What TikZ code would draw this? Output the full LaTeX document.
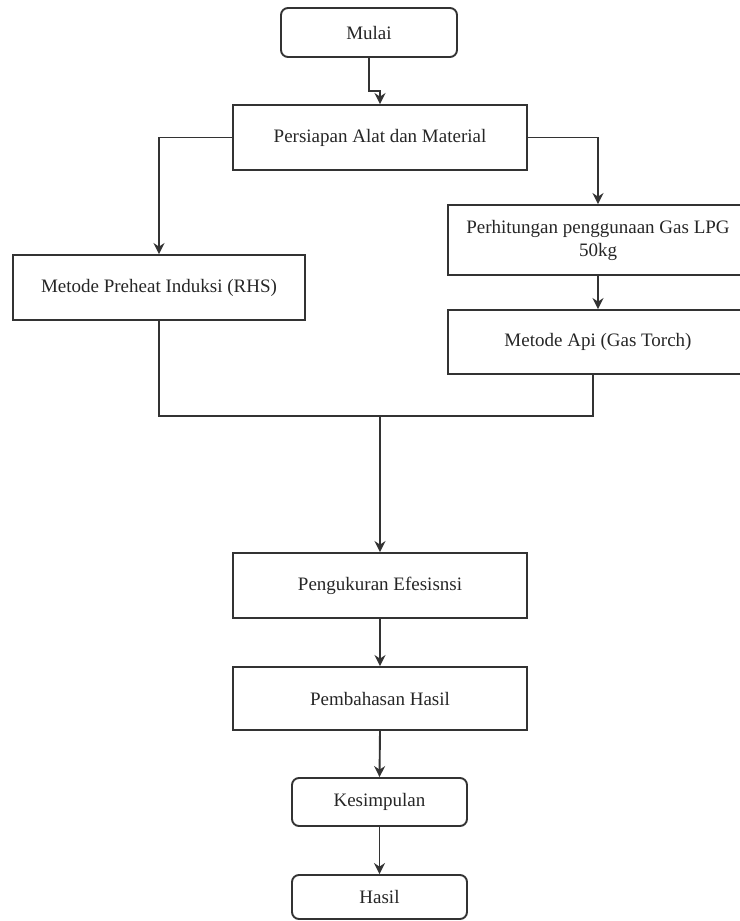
\documentclass[tikz,border=0pt]{standalone}
\usepackage{fontspec}
\setmainfont{Liberation Serif}
\usetikzlibrary{arrows.meta}
\begin{document}
\begin{tikzpicture}[x=1pt,y=-1pt,
  every node/.style={font=\fontsize{19}{23}\selectfont, align=center, inner sep=0pt, text=black!85},
  procbox/.style={draw=black!80, line width=1.9pt, rectangle},
  termbox/.style={draw=black!80, line width=1.9pt, rectangle, rounded corners=7pt},
  conn/.style={draw=black!80, line width=1.9pt},
  arr/.style={conn, -{Stealth[length=11pt,width=11pt]}}]
\useasboundingbox (0,0) rectangle (739,921);
\node[termbox, minimum width=176pt, minimum height=49pt] (mulai) at (369,32.5) {Mulai};
\node[procbox, minimum width=294pt, minimum height=65pt] (persiapan) at (380,137.5) {Persiapan Alat dan Material};
\node[procbox, minimum width=292pt, minimum height=65pt] (preheat) at (159,287.5) {Metode Preheat Induksi (RHS)};
\node[procbox, minimum width=300pt, minimum height=70pt] (lpg) at (598,240) {Perhitungan penggunaan Gas LPG\\50kg};
\node[procbox, minimum width=300pt, minimum height=64pt] (api) at (598,342) {Metode Api (Gas Torch)};
\node[procbox, minimum width=294pt, minimum height=65pt] (ukur) at (380,585.5) {Pengukuran Efesisnsi};
\node[procbox, minimum width=294pt, minimum height=63pt] (bahas) at (380,698.5) {Pembahasan Hasil};
\node[termbox, minimum width=175pt, minimum height=48pt] (kes) at (379.5,802) {Kesimpulan};
\node[termbox, minimum width=175pt, minimum height=44pt] (hasil) at (379.5,897) {Hasil};
\coordinate (j) at (380,416);
\draw[arr] (mulai.south) -- ++(0,33) -| (persiapan.north);
\draw[arr] (persiapan.west) -| (preheat.north);
\draw[arr] (persiapan.east) -| (lpg.north);
\draw[arr] (lpg.south) -- (api.north);
\draw[conn] (preheat.south) |- (j) -| ([xshift=-5pt]api.south);
\draw[arr] (j) -- (ukur.north);
\draw[arr] (ukur.south) -- (bahas.north);
\draw[arr] (bahas.south) -- (kes.north);
\draw[arr] (kes.south) -- (hasil.north);
\end{tikzpicture}
\end{document}
